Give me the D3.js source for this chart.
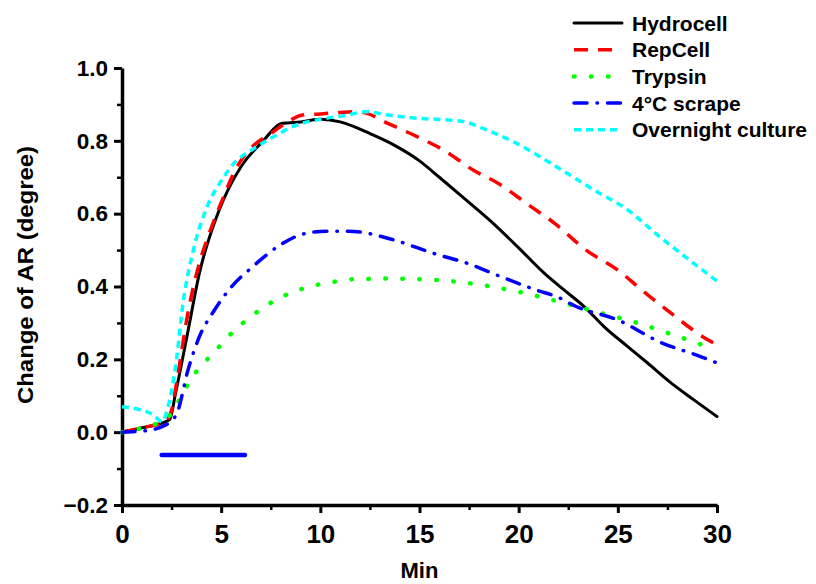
<!DOCTYPE html>
<html>
<head>
<meta charset="utf-8">
<script src="https://cdn.jsdelivr.net/npm/d3@7"></script>
<style>
  html, body { margin: 0; padding: 0; background: #fff; }
  svg { display: block; }
  text { font-family: "Liberation Sans", Arial, sans-serif; font-weight: bold; fill: #000; }
</style>
</head>
<body>
<svg id="chart" width="816" height="584"></svg>
<script>
// ---------------- data ----------------
const seriesNames = ["Hydrocell", "RepCell", "Trypsin", "4°C scrape", "Overnight culture"];

const hydrocellT = [0, 1, 2.4, 2.7, 3.3, 3.9, 4.9, 6, 7, 8.1, 9, 10, 11, 11.7, 12.5, 13.7, 15, 16, 17.3, 18.7, 20, 21.3, 22.3, 23.3, 24.3, 25.5, 26.5, 27.6, 28.8, 30];
const hydrocellV = [0, 0.012, 0.034, 0.107, 0.27, 0.436, 0.61, 0.729, 0.793, 0.848, 0.852, 0.859, 0.852, 0.839, 0.82, 0.789, 0.745, 0.70, 0.64, 0.574, 0.506, 0.436, 0.39, 0.345, 0.29, 0.235, 0.19, 0.139, 0.09, 0.043];

const repcellT = [0, 1, 2.2, 2.5, 2.8, 3.3, 3.9, 4.4, 5, 5.8, 6.5, 7.5, 8.3, 9.1, 10, 11, 11.7, 12.3, 13.4, 14.9, 16.2, 17.7, 19.1, 20.4, 21.8, 23.4, 25, 26.3, 27.7, 29.4, 30];
const repcellV = [0, 0.012, 0.03, 0.06, 0.152, 0.32, 0.464, 0.546, 0.63, 0.729, 0.78, 0.82, 0.85, 0.871, 0.874, 0.878, 0.88, 0.876, 0.848, 0.811, 0.775, 0.72, 0.679, 0.628, 0.574, 0.5, 0.445, 0.386, 0.326, 0.258, 0.24];

const trypsinT = [0, 0.9, 1.75, 2.5, 3.0, 3.5, 4.2, 4.9, 5.6, 6.4, 7.2, 8, 9, 9.8, 10.7, 11.7, 12.5, 13.4, 15, 16.9, 18.6, 20.2, 21.9, 24.1, 25.8, 27.6, 29.5];
const trypsinV = [0, 0.01, 0.024, 0.052, 0.1, 0.148, 0.194, 0.235, 0.276, 0.313, 0.345, 0.37, 0.392, 0.404, 0.413, 0.42, 0.421, 0.422, 0.42, 0.413, 0.4, 0.383, 0.36, 0.328, 0.303, 0.271, 0.235];

const scrapeT = [0, 1, 1.5, 2.2, 2.5, 2.8, 3.3, 3.9, 4.6, 5.5, 6.6, 8, 9, 10, 11, 11.7, 13.7, 15.7, 17.4, 19.1, 20.9, 22, 22.9, 25, 27.1, 29.2, 30];
const scrapeV = [0, 0.003, 0.006, 0.02, 0.03, 0.056, 0.165, 0.262, 0.33, 0.398, 0.455, 0.515, 0.542, 0.551, 0.552, 0.551, 0.528, 0.491, 0.464, 0.427, 0.39, 0.37, 0.345, 0.308, 0.248, 0.207, 0.19];

const overnightT = [0, 1, 1.6, 2, 2.4, 2.7, 3.1, 3.6, 4.3, 5, 5.5, 6.8, 7.6, 8.6, 10.3, 11.3, 12.3, 13.5, 14.9, 16.5, 17.3, 18.2, 19.9, 21.9, 23.8, 25.5, 27.1, 28.6, 30];
const overnightV = [0.07, 0.06, 0.047, 0.029, 0.088, 0.18, 0.363, 0.5, 0.62, 0.69, 0.729, 0.784, 0.81, 0.839, 0.862, 0.87, 0.88, 0.87, 0.862, 0.857, 0.852, 0.834, 0.793, 0.729, 0.665, 0.61, 0.537, 0.473, 0.415];

// stimulation bar (min)
const barStart = 2.0, barEnd = 6.2, barLevel = -0.063;

const xTicks = [0, 5, 10, 15, 20, 25, 30];
const xMinorTicks = [2.5, 7.5, 12.5, 17.5, 22.5, 27.5];
const yTicks = [-0.2, 0, 0.2, 0.4, 0.6, 0.8, 1.0];
const yMinorTicks = [-0.1, 0.1, 0.3, 0.5, 0.7, 0.9];

const xLabel = "Min";
const yLabel = "Change of AR (degree)";

// ---------------- styles ----------------
const styles = [
  { color: "#000000", dash: null, width: 3, cap: "round" },
  { color: "#ff0000", dash: "14,10", width: 3.5, cap: "butt" },
  { color: "#00ff00", dash: "0.5,16.5", width: 4.5, cap: "round" },
  { color: "#0000ff", dash: "13,10,0.5,10", width: 3.5, cap: "round" },
  { color: "#00ffff", dash: "7,5", width: 3.5, cap: "butt" }
];

const seriesT = [hydrocellT, repcellT, trypsinT, scrapeT, overnightT];
const seriesV = [hydrocellV, repcellV, trypsinV, scrapeV, overnightV];

// ---------------- chart ----------------
const svg = d3.select("#chart");
const x = d3.scaleLinear().domain([0, 30]).range([122, 717]);
const y = d3.scaleLinear().domain([-0.2, 1.0]).range([505, 68]);

// minor ticks
svg.append("g").attr("transform", `translate(0,${y(-0.2)})`)
  .call(d3.axisBottom(x).tickValues(xMinorTicks).tickSize(5).tickFormat("").tickSizeOuter(0))
  .call(g => g.select(".domain").remove())
  .call(g => g.selectAll("line").attr("stroke", "#000").attr("stroke-width", 2.5));
svg.append("g").attr("transform", `translate(${x(0)},0)`)
  .call(d3.axisLeft(y).tickValues(yMinorTicks).tickSize(5).tickFormat("").tickSizeOuter(0))
  .call(g => g.select(".domain").remove())
  .call(g => g.selectAll("line").attr("stroke", "#000").attr("stroke-width", 2.5));

// major axes
const xAxis = svg.append("g").attr("transform", `translate(0,${y(-0.2)})`)
  .call(d3.axisBottom(x).tickValues(xTicks).tickSize(8).tickPadding(12).tickSizeOuter(0).tickFormat(d3.format("d")));
const yAxis = svg.append("g").attr("transform", `translate(${x(0)},0)`)
  .call(d3.axisLeft(y).tickValues(yTicks).tickSize(8).tickPadding(6).tickSizeOuter(0).tickFormat(d3.format(".1f")));

[xAxis, yAxis].forEach(g => {
  g.select(".domain").attr("stroke", "#000").attr("stroke-width", 3.5);
  g.selectAll(".tick line").attr("stroke", "#000").attr("stroke-width", 3);
});
xAxis.selectAll(".tick text")
  .attr("font-size", 26).attr("font-family", "'Liberation Sans Narrow','Liberation Sans',Arial,sans-serif")
  .attr("font-weight", "bold").attr("fill", "#000");
yAxis.selectAll(".tick text")
  .attr("font-size", 22.5).attr("font-family", "'Liberation Sans',Arial,sans-serif")
  .attr("font-weight", "bold").attr("fill", "#000");

// axis titles
svg.append("text").attr("x", x(15)).attr("y", 578)
  .attr("text-anchor", "middle").attr("font-size", 22)
  .attr("font-family", "'Liberation Sans Narrow','Liberation Sans',Arial,sans-serif")
  .text(xLabel);
svg.append("text")
  .attr("transform", `translate(25,${(146 + 404) / 2}) rotate(-90)`)
  .attr("text-anchor", "middle").attr("dominant-baseline", "central")
  .attr("font-size", 22)
  .attr("textLength", 258).attr("lengthAdjust", "spacingAndGlyphs")
  .text(yLabel);

// series
const line = d3.line().x(d => x(d[0])).y(d => y(d[1])).curve(d3.curveMonotoneX);
seriesNames.forEach((name, i) => {
  const pts = seriesT[i].map((t, j) => [t, seriesV[i][j]]);
  const s = styles[i];
  svg.append("path").datum(pts)
    .attr("d", line)
    .attr("fill", "none")
    .attr("stroke", s.color)
    .attr("stroke-width", s.width)
    .attr("stroke-linecap", s.cap)
    .attr("stroke-linejoin", "round")
    .attr("stroke-dasharray", s.dash);
});

// stimulation bar
svg.append("line")
  .attr("x1", x(barStart)).attr("x2", x(barEnd))
  .attr("y1", y(barLevel)).attr("y2", y(barLevel))
  .attr("stroke", "#0000ff").attr("stroke-width", 4.5).attr("stroke-linecap", "round");

// legend
const legend = svg.append("g");
seriesNames.forEach((name, i) => {
  const cy = 23 + i * 26.7;
  const s = styles[i];
  legend.append("line")
    .attr("x1", 574).attr("x2", 622).attr("y1", cy).attr("y2", cy)
    .attr("stroke", s.color).attr("stroke-width", s.width)
    .attr("stroke-linecap", s.cap).attr("stroke-dasharray", s.dash);
  legend.append("text").attr("x", 632).attr("y", cy + 7.5)
    .attr("font-size", 21).text(name);
});
</script>
</body>
</html>
